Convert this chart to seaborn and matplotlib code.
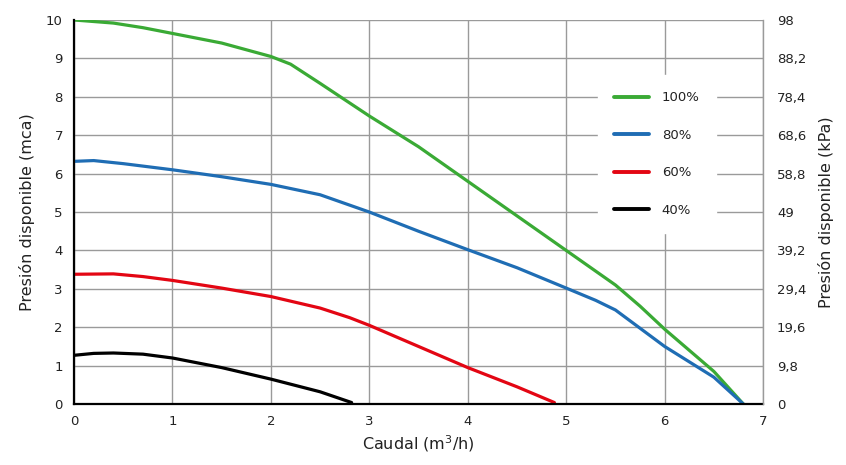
import pandas as pd
import numpy as np
import matplotlib.pyplot as plt
import seaborn as sns

# pump curves: flow (m3/h) vs head (mca)
q_100 = [0, 0.4, 0.7, 1.0, 1.5, 2.0, 2.2, 2.5, 3.0, 3.5, 4.0, 4.5, 5.0, 5.5, 5.75, 6.0, 6.5, 6.8]
h_100 = [10.0, 9.92, 9.8, 9.65, 9.4, 9.05, 8.85, 8.35, 7.5, 6.7, 5.8, 4.9, 4.0, 3.1, 2.55, 1.95, 0.85, 0.0]

q_80 = [0, 0.2, 0.5, 1.0, 1.5, 2.0, 2.5, 3.0, 3.5, 4.0, 4.5, 5.0, 5.3, 5.5, 6.0, 6.5, 6.8]
h_80 = [6.32, 6.34, 6.26, 6.1, 5.92, 5.72, 5.45, 5.0, 4.5, 4.02, 3.55, 3.02, 2.7, 2.45, 1.5, 0.7, 0.0]

q_60 = [0, 0.4, 0.7, 1.0, 1.5, 2.0, 2.5, 2.8, 3.0, 3.5, 4.0, 4.5, 4.88]
h_60 = [3.38, 3.39, 3.32, 3.22, 3.02, 2.8, 2.5, 2.25, 2.05, 1.5, 0.95, 0.45, 0.04]

q_40 = [0, 0.2, 0.4, 0.7, 1.0, 1.5, 2.0, 2.5, 2.82]
h_40 = [1.27, 1.32, 1.33, 1.3, 1.2, 0.95, 0.65, 0.32, 0.04]

series = ["100%", "80%", "60%", "40%"]
colors = ["#3aaa35", "#1f6db4", "#e30613", "#000000"]

kpa_ticks = [0, 9.8, 19.6, 29.4, 39.2, 49, 58.8, 68.6, 78.4, 88.2, 98]
kpa_labels = ["0", "9,8", "19,6", "29,4", "39,2", "49", "58,8", "68,6", "78,4", "88,2", "98"]

frames = []
for name, q, h in zip(series, [q_100, q_80, q_60, q_40], [h_100, h_80, h_60, h_40]):
    frames.append(pd.DataFrame({"q": q, "h": h, "serie": name}))
df = pd.concat(frames, ignore_index=True)

sns.set_style("white")
plt.rcParams["font.family"] = ["DejaVu Sans"]

fig = plt.figure(figsize=(8.46, 4.65), dpi=100)
ax = fig.add_axes([0.0875, 0.131, 0.8145, 0.826])

sns.lineplot(data=df, x="q", y="h", hue="serie", hue_order=series,
             palette=colors, sort=False, estimator=None, linewidth=2.3, ax=ax)

ax.set_xlim(0, 7)
ax.set_ylim(0, 10)
ax.set_xticks(range(0, 8))
ax.set_yticks(range(0, 11))
ax.grid(True, color="#9a9a9a", linewidth=1)
ax.set_axisbelow(True)
for s in ["top", "right"]:
    ax.spines[s].set_visible(False)
ax.spines["left"].set_color("black")
ax.spines["left"].set_linewidth(1.6)
ax.spines["bottom"].set_color("black")
ax.spines["bottom"].set_linewidth(1.6)
ax.tick_params(length=0, labelsize=9.5, colors="#222222", pad=8)
ax.set_xlabel("Caudal (m$^3$/h)", fontsize=11.5, color="#222222", labelpad=4)
ax.set_ylabel("Presión disponible (mca)", fontsize=11.5, color="#222222", labelpad=8)

ax2 = ax.twinx()
ax2.set_ylim(0, 98)
ax2.set_yticks(kpa_ticks)
ax2.set_yticklabels(kpa_labels)
ax2.grid(False)
for s in ["top", "left", "bottom"]:
    ax2.spines[s].set_visible(False)
ax2.spines["right"].set_color("#9a9a9a")
ax2.spines["right"].set_linewidth(1)
ax2.tick_params(length=0, labelsize=9.5, colors="#222222", pad=10)
ax2.set_ylabel("Presión disponible (kPa)", fontsize=11.5, color="#222222", labelpad=8)

leg = ax.legend(loc="upper left", bbox_to_anchor=(0.76, 0.857), frameon=True,
                fancybox=False, framealpha=1, edgecolor="white", facecolor="white",
                fontsize=9.5, handlelength=2.6, labelspacing=1.85, borderpad=1.25,
                borderaxespad=0, handletextpad=1.0, title=None)
for line in leg.get_lines():
    line.set_linewidth(2.8)
for t in leg.get_texts():
    t.set_color("#222222")

fig.savefig("out.png", dpi=100)
